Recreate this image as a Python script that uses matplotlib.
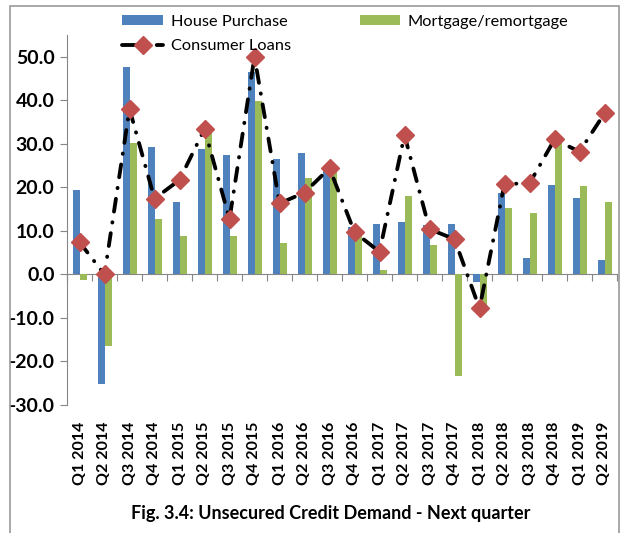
import matplotlib
matplotlib.use('Agg')
import matplotlib.pyplot as plt
import numpy as np
from matplotlib.patches import Rectangle

plt.rcParams['font.family'] = ['Lato', 'DejaVu Sans']

# Quarterly data
quarters = ['Q1 2014', 'Q2 2014', 'Q3 2014', 'Q4 2014',
            'Q1 2015', 'Q2 2015', 'Q3 2015', 'Q4 2015',
            'Q1 2016', 'Q2 2016', 'Q3 2016', 'Q4 2016',
            'Q1 2017', 'Q2 2017', 'Q3 2017', 'Q4 2017',
            'Q1 2018', 'Q2 2018', 'Q3 2018', 'Q4 2018',
            'Q1 2019', 'Q2 2019']
house_purchase = [19.5, -25.2, 47.7, 29.2, 16.6, 28.7, 27.4, 46.4, 26.4, 27.9, 23.8,
                  10.8, 11.5, 12.0, 11.4, 11.6, -1.8, 18.8, 3.8, 20.5, 17.6, 3.3]
mortgage = [-1.3, -16.5, 30.2, 12.7, 8.9, 32.8, 8.9, 39.8, 7.2, 22.1, 23.5,
            9.5, 1.0, 17.9, 6.8, -23.4, -7.0, 15.2, 14.1, 30.5, 20.3, 16.6]
consumer_loans = [7.4, 0.0, 38.0, 17.4, 21.7, 33.4, 12.7, 50.0, 16.3, 18.8, 24.4,
                  9.7, 5.2, 32.0, 10.4, 8.1, -7.8, 20.8, 20.9, 31.0, 28.2, 37.0]
y_ticks = [-30, -20, -10, 0, 10, 20, 30, 40, 50]

blue = '#4F81BD'
green = '#9BBB59'
red = '#C0504D'
axis_grey = '#868686'

fig = plt.figure(figsize=(6.21, 5.33), dpi=100)
ax = fig.add_axes([67 / 621, 1 - 405 / 533, 550 / 621, 370 / 533])

x = np.arange(len(quarters))
w = 0.28
bars_hp = ax.bar(x - w / 2, house_purchase, w, color=blue, label='House Purchase')
bars_mr = ax.bar(x + w / 2, mortgage, w, color=green, label='Mortgage/remortgage')
line_cl, = ax.plot(x, consumer_loans, color='black', lw=2.75,
                   linestyle=(0, (3.4, 2.8, 0.1, 2.8)), dash_capstyle='round',
                   marker='D', markersize=8.7, markerfacecolor=red,
                   markeredgecolor=red, label='Consumer Loans', zorder=3)

ymin, ymax = -30, 55
ax.set_ylim(ymin, ymax)
ax.set_xlim(-0.5, len(quarters) - 0.5)
ax.set_yticks(y_ticks)
ax.set_yticklabels([f'{v:.1f}' for v in y_ticks], fontsize=14, fontweight='bold')
ax.tick_params(axis='y', direction='out', length=5, color=axis_grey, pad=4)

# category labels sit at the bottom of the plot area
ax.set_xticks(x)
ax.set_xticklabels(quarters, rotation=90, fontsize=11.5, fontweight='bold')
ax.tick_params(axis='x', length=0, pad=12)

for side in ['top', 'right', 'bottom']:
    ax.spines[side].set_visible(False)
ax.spines['left'].set_color(axis_grey)

# horizontal axis line through zero with boundary ticks
zero_axis = ax.secondary_xaxis((0 - ymin) / (ymax - ymin))
zero_axis.set_xticks(np.arange(len(quarters) + 1) - 0.5)
zero_axis.set_xticklabels([])
zero_axis.tick_params(direction='out', length=5, color=axis_grey)
zero_axis.spines['bottom'].set_color(axis_grey)

fig.legend([bars_hp, line_cl, bars_mr],
           ['House Purchase', 'Consumer Loans', 'Mortgage/remortgage'],
           ncol=2, loc='upper left', bbox_to_anchor=(114 / 621, 1 - 7 / 533),
           frameon=False, fontsize=11.8, borderpad=0, labelspacing=0.62,
           handlelength=2.5, handleheight=0.55, handletextpad=0.45,
           columnspacing=4.2)

fig.text(0.533, 1 - 514 / 533, 'Fig. 3.4: Unsecured Credit Demand - Next quarter',
         ha='center', va='center', fontsize=13, fontweight='bold')

fig.add_artist(Rectangle((10 / 621, -0.1), 609 / 621, 1.1 - 6 / 533,
                         transform=fig.transFigure, fill=False,
                         edgecolor='#9A9A9A', lw=1.2))

fig.savefig('out.png', dpi=100)
